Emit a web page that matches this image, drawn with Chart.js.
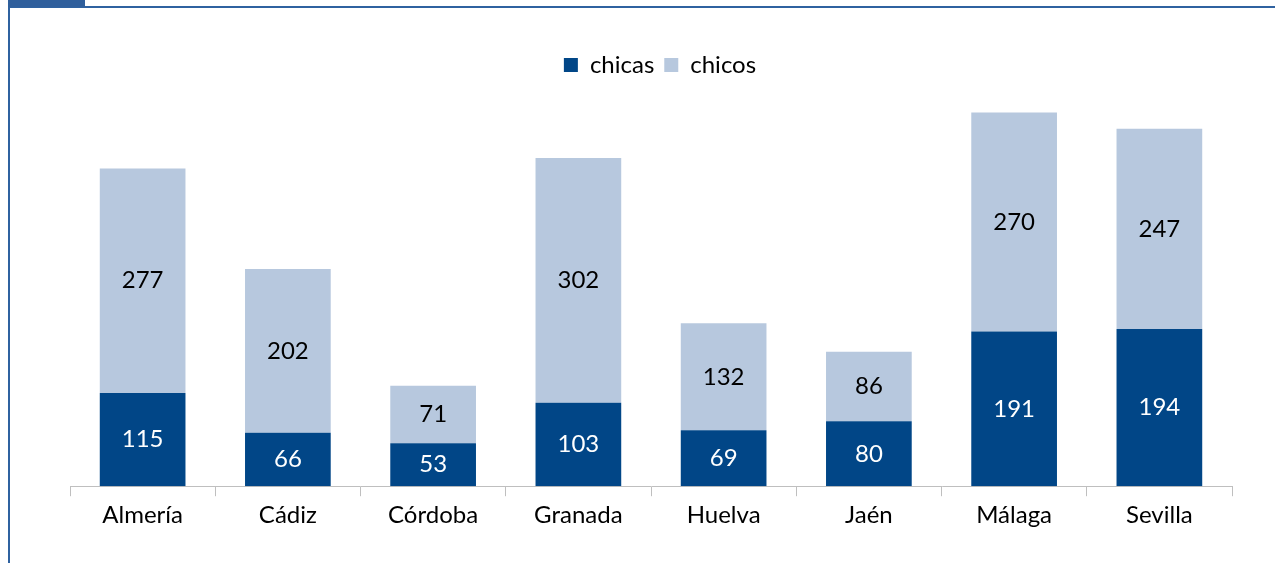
<!DOCTYPE html>
<html>
<head>
<meta charset="utf-8">
<script src="https://cdn.jsdelivr.net/npm/chart.js@4"></script>
<style>
  html, body { margin: 0; padding: 0; background: #fff; }
  #wrap { position: relative; width: 1275px; height: 563px; }
  #topLine { position: absolute; left: 8px; top: 6px; width: 1267px; height: 2px; background: #2f62a0; }
  #topBlock { position: absolute; left: 8px; top: 0; width: 77px; height: 7px; background: #2f5f9c; }
  #leftLine { position: absolute; left: 8px; top: 7px; width: 2px; height: 556px; background: #2f62a0; }
  canvas { position: absolute; left: 0; top: 0; }
</style>
</head>
<body>
<div id="wrap">
  <canvas id="grafico" width="1275" height="563"></canvas>
  <div id="topLine"></div>
  <div id="topBlock"></div>
  <div id="leftLine"></div>
</div>
<script>
const provincias = ["Almería", "Cádiz", "Córdoba", "Granada", "Huelva", "Jaén", "Málaga", "Sevilla"];
const chicas = [115, 66, 53, 103, 69, 80, 191, 194];
const chicos = [277, 202, 71, 302, 132, 86, 270, 247];

const fuente = "Lato, 'Open Sans', sans-serif";

// etiquetas dentro de cada tramo de la barra
const etiquetasBarras = {
  id: 'etiquetasBarras',
  afterDatasetsDraw(chart) {
    const ctx = chart.ctx;
    ctx.save();
    ctx.font = "24px " + fuente;
    ctx.textAlign = 'center';
    ctx.textBaseline = 'middle';
    chart.data.datasets.forEach((ds, i) => {
      const meta = chart.getDatasetMeta(i);
      meta.data.forEach((bar, j) => {
        ctx.fillStyle = i === 0 ? '#ffffff' : '#000000';
        ctx.fillText(String(ds.data[j]), bar.x, (bar.y + bar.base) / 2);
      });
    });
    ctx.restore();
  }
};

// la leyenda del original queda un poco a la derecha y más cerca de las barras
const moverLeyenda = {
  id: 'moverLeyenda',
  afterLayout(chart) {
    if (chart.legend) {
      chart.legend.left += 9;
      chart.legend.right += 9;
      chart.legend.top += 6;
      chart.legend.bottom += 6;
    }
  }
};

new Chart(document.getElementById("grafico"), {
  type: 'bar',
  data: {
    labels: provincias,
    datasets: [
      { label: 'chicas', data: chicas, backgroundColor: '#014687' },
      { label: 'chicos', data: chicos, backgroundColor: '#b7c8de' }
    ]
  },
  options: {
    responsive: false,
    animation: false,
    layout: { padding: { left: 70, right: 43, top: 37, bottom: 28 } },
    datasets: { bar: { barPercentage: 0.59, categoryPercentage: 1 } },
    plugins: {
      legend: {
        position: 'top',
        labels: {
          boxWidth: 14,
          boxHeight: 14,
          padding: 10,
          color: '#000',
          font: { family: fuente, size: 24 }
        }
      },
      tooltip: { enabled: false }
    },
    scales: {
      x: {
        stacked: true,
        grid: {
          display: true,
          offset: true,
          drawOnChartArea: false,
          drawTicks: true,
          tickLength: 10,
          color: '#bfbfbf'
        },
        border: { display: true, color: '#bfbfbf' },
        ticks: { color: '#000', padding: 5, font: { family: fuente, size: 24 } }
      },
      y: {
        stacked: true,
        display: false,
        min: 0,
        max: 500
      }
    }
  },
  plugins: [etiquetasBarras, moverLeyenda]
});
</script>
</body>
</html>
